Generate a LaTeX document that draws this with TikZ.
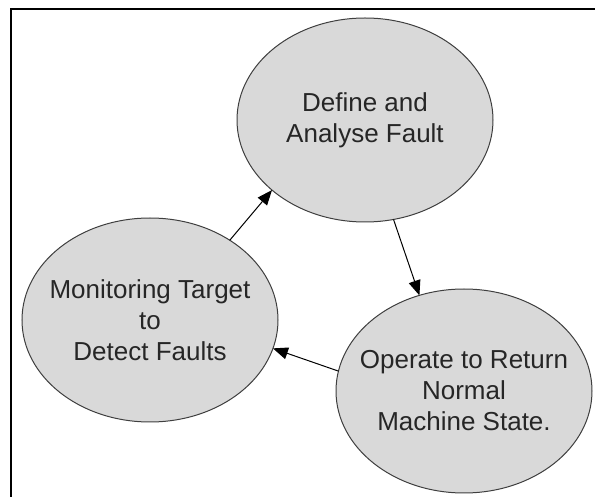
\documentclass[tikz,border=0pt]{standalone}
\usepackage{fontspec}
\setmainfont{Liberation Sans}
\usetikzlibrary{shapes.geometric, arrows.meta}
\definecolor{stagefill}{HTML}{D9D9D9}
\definecolor{stageline}{HTML}{3F3F3F}
\tikzset{
  stage/.style={
    ellipse, draw=stageline, fill=stagefill, line width=0.5pt,
    minimum width=128pt, minimum height=102pt,
    inner xsep=-12pt, inner ysep=0pt, outer sep=0pt,
    align=center, text=black!85, font=\fontsize{13}{15.5}\selectfont
  },
  arr/.style   = {-{Triangle[length=7.5pt, width=6pt]}, line width=0.5pt},
  frame/.style = {line width=1pt},
}

\begin{document}
\begin{tikzpicture}[x=0.5pt, y=-0.5pt]
  \useasboundingbox (0,0) rectangle (595,497);

  % Frame
  \draw[frame] (11,497) -- (11,9) -- (595,9);

  % Stages
  \node[stage] (fault)   at (365,120) {Define and\\Analyse Fault};
  \node[stage] (operate) at (464,391) {Operate to Return\\Normal\\Machine State.};
  \node[stage] (monitor) at (150,320) {Monitoring Target\\to\\Detect Faults};

  % Arrows
  \draw[arr] (monitor.45) -- (fault.217.5);
  \draw[arr] (fault.-74) -- (operate.115.6);
  \draw[arr] (operate.171.9) -- (monitor.-13.8);

\end{tikzpicture}
\end{document}
